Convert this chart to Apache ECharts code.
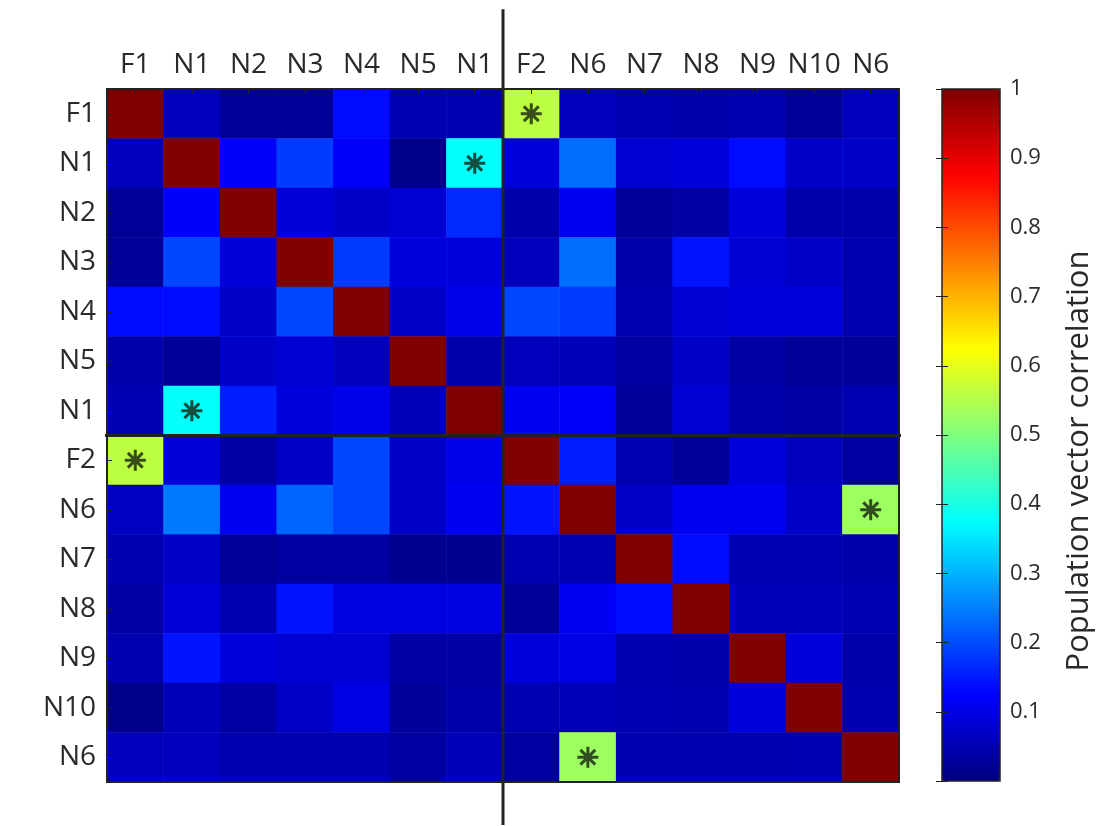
<!DOCTYPE html>
<html>
<head>
<meta charset="utf-8">
<script src="https://cdn.jsdelivr.net/npm/echarts@6/dist/echarts.min.js"></script>
<style>
html,body{margin:0;padding:0;background:#fff;}
#chart{width:1118px;height:826px;}
</style>
</head>
<body>
<div id="chart"></div>
<script>
// ---- data ----
const xLabels = ['F1','N1','N2','N3','N4','N5','N1','F2','N6','N7','N8','N9','N10','N6'];
const yLabels = ['F1','N1','N2','N3','N4','N5','N1','F2','N6','N7','N8','N9','N10','N6'];

const rowF1a  = [1, 0.061, 0.022, 0.022, 0.135, 0.051, 0.051, 0.56, 0.061, 0.051, 0.042, 0.047, 0.022, 0.061];
const rowN1a  = [0.061, 1, 0.12, 0.184, 0.12, 0.012, 0.38, 0.091, 0.233, 0.081, 0.091, 0.135, 0.071, 0.071];
const rowN2   = [0.022, 0.12, 1, 0.086, 0.071, 0.081, 0.164, 0.042, 0.11, 0.022, 0.037, 0.091, 0.042, 0.042];
const rowN3   = [0.022, 0.194, 0.086, 1, 0.184, 0.091, 0.091, 0.061, 0.233, 0.042, 0.145, 0.081, 0.071, 0.047];
const rowN4   = [0.135, 0.135, 0.071, 0.194, 1, 0.071, 0.105, 0.194, 0.184, 0.047, 0.081, 0.091, 0.091, 0.047];
const rowN5   = [0.042, 0.022, 0.071, 0.081, 0.061, 1, 0.042, 0.061, 0.056, 0.032, 0.071, 0.037, 0.022, 0.027];
const rowN1b  = [0.051, 0.38, 0.154, 0.091, 0.105, 0.056, 1, 0.11, 0.12, 0.027, 0.081, 0.042, 0.037, 0.051];
const rowF2   = [0.56, 0.086, 0.037, 0.071, 0.194, 0.071, 0.105, 1, 0.154, 0.051, 0.022, 0.091, 0.061, 0.032];
const rowN6a  = [0.066, 0.243, 0.11, 0.223, 0.194, 0.071, 0.115, 0.145, 1, 0.071, 0.11, 0.11, 0.071, 0.53];
const rowN7   = [0.047, 0.071, 0.022, 0.032, 0.032, 0.017, 0.017, 0.051, 0.051, 1, 0.135, 0.051, 0.051, 0.042];
const rowN8   = [0.037, 0.086, 0.047, 0.145, 0.096, 0.096, 0.096, 0.022, 0.115, 0.135, 1, 0.056, 0.056, 0.051];
const rowN9   = [0.047, 0.145, 0.091, 0.081, 0.081, 0.037, 0.037, 0.091, 0.10, 0.047, 0.042, 1, 0.091, 0.042];
const rowN10  = [0.012, 0.056, 0.037, 0.071, 0.10, 0.027, 0.042, 0.051, 0.056, 0.051, 0.047, 0.091, 1, 0.047];
const rowN6b  = [0.061, 0.061, 0.047, 0.047, 0.047, 0.032, 0.056, 0.032, 0.53, 0.047, 0.047, 0.047, 0.051, 1];

// significant cells [column, row]
const sigCells = [[7,0],[0,7],[6,1],[1,6],[13,8],[8,13]];

// block dividers (in cell units)
const dividerV = [[7, -1.61], [7, 14.87]];
const dividerH = [[-1.72, 7], [14.57, 7]];

const colorbarTicks = [0.1,0.2,0.3,0.4,0.5,0.6,0.7,0.8,0.9,1];
const colorbarTitle = 'Population vector correlation';

// ---- build ----
const rows = [rowF1a,rowN1a,rowN2,rowN3,rowN4,rowN5,rowN1b,rowF2,rowN6a,rowN7,rowN8,rowN9,rowN10,rowN6b];
const heatData = [];
rows.forEach((r, yi) => r.forEach((v, xi) => heatData.push([xi, yi, v])));

const jet = ['#00007F','#0000FF','#007FFF','#00FFFF','#7FFF7F','#FFFF00','#FF7F00','#FF0000','#7F0000'];
const FONT = 'Open Sans';
const TXT = '#2a2a2a';

const G = {left:107, top:89, width:792, height:693};
const CB = {left:942, top:89, width:58, height:692};

const chart = echarts.init(document.getElementById('chart'));
chart.setOption({
  backgroundColor:'#fff',
  animation:false,
  grid:[
    Object.assign({show:true, borderColor:'#222', borderWidth:2, backgroundColor:'transparent', z:5}, G),
    Object.assign({show:false}, G),
    Object.assign({show:true, borderColor:'#222', borderWidth:1.5, backgroundColor:'transparent', z:10}, CB)
  ],
  xAxis:[
    {type:'category', gridIndex:0, data:xLabels, position:'top', z:6,
     axisLine:{show:false}, splitLine:{show:false},
     axisTick:{show:true, inside:true, alignWithLabel:true, length:5, lineStyle:{color:'#222'}},
     axisLabel:{fontFamily:FONT, fontSize:28, color:TXT, margin:10, interval:0}},
    {type:'value', gridIndex:1, min:0, max:14, show:false},
    {type:'value', gridIndex:2, min:0, max:1, show:false}
  ],
  yAxis:[
    {type:'category', gridIndex:0, data:yLabels, inverse:true, z:6,
     axisLine:{show:false}, splitLine:{show:false},
     axisTick:{show:true, inside:true, alignWithLabel:true, length:5, lineStyle:{color:'#222'}},
     axisLabel:{fontFamily:FONT, fontSize:28, color:TXT, margin:11, interval:0}},
    {type:'value', gridIndex:1, min:0, max:14, inverse:true, show:false},
    {type:'value', gridIndex:2, min:0, max:1, interval:0.1, position:'right', z:11,
     axisLine:{show:false}, splitLine:{show:false},
     axisTick:{show:true, inside:true, length:6, lineStyle:{color:'#222'}},
     axisLabel:{fontFamily:FONT, fontSize:22, color:TXT, margin:10,
       formatter:v => { const t = colorbarTicks.find(c => Math.abs(c - v) < 1e-6); return t === undefined ? '' : String(t); }},
     name:colorbarTitle, nameLocation:'middle', nameGap:64, nameRotate:90,
     nameTextStyle:{fontFamily:FONT, fontSize:31, color:TXT, padding:[0, 52, 0, 0]}},
    {type:'value', gridIndex:2, min:0, max:1, interval:0.1, position:'left', z:11,
     axisLine:{show:false}, splitLine:{show:false}, axisLabel:{show:false},
     axisTick:{show:true, inside:true, length:6, lineStyle:{color:'#222'}}}
  ],
  visualMap:{
    type:'continuous', min:0, max:1, seriesIndex:0, calculable:false,
    left:CB.left, top:CB.top, itemWidth:CB.width, itemHeight:CB.height,
    padding:0, text:['',''], inRange:{color:jet}, hoverLink:false
  },
  series:[
    {type:'heatmap', xAxisIndex:0, yAxisIndex:0, data:heatData, z:2,
     itemStyle:{borderWidth:0}, emphasis:{disabled:true}},
    {type:'scatter', xAxisIndex:0, yAxisIndex:0, data:sigCells, z:4,
     symbol:'path://M10,0L10,20M0,10L20,10M2.93,2.93L17.07,17.07M2.93,17.07L17.07,2.93',
     symbolSize:21, symbolKeepAspect:true,
     itemStyle:{color:'none', borderColor:'#15200f', borderWidth:3},
     emphasis:{disabled:true}},
    {type:'line', xAxisIndex:1, yAxisIndex:1, data:dividerV, clip:false, symbol:'none', z:12,
     lineStyle:{color:'#222', width:3}},
    {type:'line', xAxisIndex:1, yAxisIndex:1, data:dividerH, clip:false, symbol:'none', z:12,
     lineStyle:{color:'#222', width:3}}
  ]
});
</script>
</body>
</html>
